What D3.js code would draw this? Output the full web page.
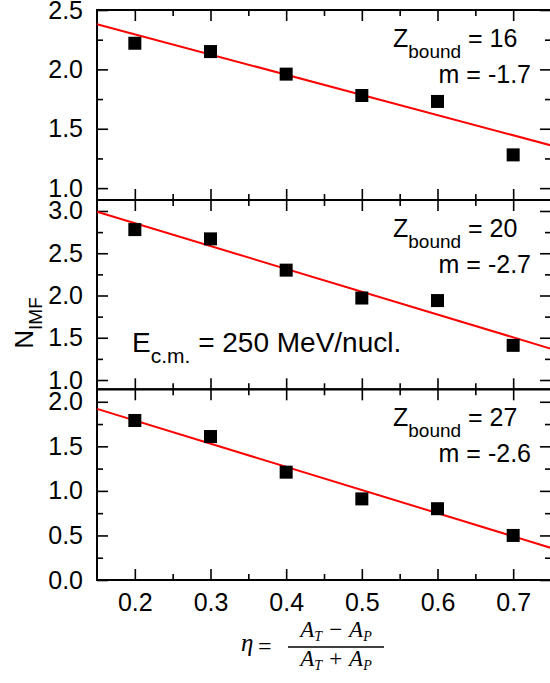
<!DOCTYPE html>
<html>
<head>
<meta charset="utf-8">
<script src="https://cdn.jsdelivr.net/npm/d3@7"></script>
<style>
    body { margin: 0; background: #fff; }
    svg { display: block; font-family: "Liberation Sans", Arial, sans-serif; }
</style>
</head>
<body>
<svg id="chart" width="550" height="683"></svg>
<script>
// eta = (A_T - A_P) / (A_T + A_P)
const eta = [0.2, 0.3, 0.4, 0.5, 0.6, 0.7];
const nImfZ16 = [2.22, 2.15, 1.96, 1.78, 1.73, 1.28];
const nImfZ20 = [2.78, 2.67, 2.30, 1.97, 1.94, 1.41];
const nImfZ27 = [1.79, 1.61, 1.21, 0.91, 0.80, 0.50];

const zBound = [16, 20, 27];
const slopeLabels = ["-1.7", "-2.7", "-2.6"];
const fitSlopes = [-1.7, -2.7, -2.6];
const fitIntercepts = [2.635, 3.395, 2.31];

const xDomain = [0.15, 0.75];
const xMajorTicks = [0.2, 0.3, 0.4, 0.5, 0.6, 0.7];
const xMinorTicks = [0.25, 0.35, 0.45, 0.55, 0.65];

const yDomains = [[0.9, 2.5], [0.89, 3.13], [0, 2.14]];
const yMajorTicks = [[1.0, 1.5, 2.0, 2.5], [1.0, 1.5, 2.0, 2.5, 3.0], [0, 0.5, 1.0, 1.5, 2.0]];
const yMinorTicks = [[1.25, 1.75, 2.25], [1.25, 1.75, 2.25, 2.75], [0.25, 0.75, 1.25, 1.75]];

const panelData = [nImfZ16, nImfZ20, nImfZ27];

const svg = d3.select('#chart');

const LEFT = 97;
const RIGHT = 551;
const PANEL_TOPS = [10, 200, 389.3];
const PANEL_BOTTOMS = [200, 389.3, 580];
const MAJOR_LEN = 11;
const MINOR_LEN = 6;
const SQUARE = 13;
const FONT_TICK = 25;
const FONT_TEXT = 25;
const FONT_SUB = 19;

const x = d3.scaleLinear().domain(xDomain).range([LEFT, RIGHT]);
const fmt = d3.format('.1f');

function styleAxis(g) {
    g.select('.domain').remove();
    g.selectAll('.tick line').attr('stroke', '#000').attr('stroke-width', 1.6);
    g.selectAll('.tick text')
        .attr('fill', '#000')
        .attr('font-size', FONT_TICK)
        .attr('font-family', '"Liberation Sans", Arial, sans-serif');
}

panelData.forEach((values, i) => {
    const top = PANEL_TOPS[i];
    const bottom = PANEL_BOTTOMS[i];
    const y = d3.scaleLinear().domain(yDomains[i]).range([bottom, top]);
    const isLast = i === panelData.length - 1;

    // left axis
    svg.append('g')
        .attr('transform', `translate(${LEFT},0)`)
        .call(d3.axisLeft(y).tickValues(yMajorTicks[i]).tickSize(-MAJOR_LEN).tickPadding(14).tickFormat(fmt))
        .call(styleAxis);
    svg.append('g')
        .attr('transform', `translate(${LEFT},0)`)
        .call(d3.axisLeft(y).tickValues(yMinorTicks[i]).tickSize(-MINOR_LEN).tickFormat(''))
        .call(styleAxis);

    // right axis
    svg.append('g')
        .attr('transform', `translate(${RIGHT},0)`)
        .call(d3.axisRight(y).tickValues(yMajorTicks[i]).tickSize(-MAJOR_LEN).tickFormat(''))
        .call(styleAxis);
    svg.append('g')
        .attr('transform', `translate(${RIGHT},0)`)
        .call(d3.axisRight(y).tickValues(yMinorTicks[i]).tickSize(-MINOR_LEN).tickFormat(''))
        .call(styleAxis);

    // top axis
    svg.append('g')
        .attr('transform', `translate(0,${top})`)
        .call(d3.axisTop(x).tickValues(xMajorTicks).tickSize(-MAJOR_LEN).tickFormat(''))
        .call(styleAxis);
    svg.append('g')
        .attr('transform', `translate(0,${top})`)
        .call(d3.axisTop(x).tickValues(xMinorTicks).tickSize(-MINOR_LEN).tickFormat(''))
        .call(styleAxis);

    // bottom axis
    svg.append('g')
        .attr('transform', `translate(0,${bottom})`)
        .call(d3.axisBottom(x).tickValues(xMajorTicks).tickSize(-MAJOR_LEN).tickPadding(13)
            .tickFormat(isLast ? fmt : ''))
        .call(styleAxis);
    svg.append('g')
        .attr('transform', `translate(0,${bottom})`)
        .call(d3.axisBottom(x).tickValues(xMinorTicks).tickSize(-MINOR_LEN).tickFormat(''))
        .call(styleAxis);

    // frame
    svg.append('rect')
        .attr('x', LEFT)
        .attr('y', top)
        .attr('width', RIGHT - LEFT)
        .attr('height', bottom - top)
        .attr('fill', 'none')
        .attr('stroke', '#000')
        .attr('stroke-width', 2);

    // linear fit
    const fit = d => fitIntercepts[i] + fitSlopes[i] * d;
    svg.append('path')
        .datum(xDomain)
        .attr('d', d3.line().x(d => x(d)).y(d => y(fit(d))))
        .attr('fill', 'none')
        .attr('stroke', '#ff0000')
        .attr('stroke-width', 2);

    // data points
    svg.append('g')
        .selectAll('rect')
        .data(values)
        .join('rect')
        .attr('x', (d, j) => x(eta[j]) - SQUARE / 2)
        .attr('y', d => y(d) - SQUARE / 2)
        .attr('width', SQUARE)
        .attr('height', SQUARE)
        .attr('fill', '#000');

    // annotations
    const zText = svg.append('text')
        .attr('x', 393)
        .attr('y', top + 37)
        .attr('font-size', FONT_TEXT)
        .attr('fill', '#000');
    zText.append('tspan').text('Z');
    zText.append('tspan').attr('font-size', FONT_SUB).attr('dy', 11).text('bound');
    zText.append('tspan').attr('dy', -11).text(' = ' + zBound[i]);

    svg.append('text')
        .attr('x', 531)
        .attr('y', top + 73)
        .attr('font-size', FONT_TEXT)
        .attr('text-anchor', 'end')
        .attr('fill', '#000')
        .text('m = ' + slopeLabels[i]);

    if (i === 1) {
        const eText = svg.append('text')
            .attr('x', 132)
            .attr('y', top + 152)
            .attr('font-size', 28)
            .attr('fill', '#000');
        eText.append('tspan').text('E');
        eText.append('tspan').attr('font-size', 21).attr('dy', 11).text('c.m.');
        eText.append('tspan').attr('dy', -11).text(' = 250 MeV/nucl.');
    }
});

// y axis title
const yTitle = svg.append('text')
    .attr('transform', 'translate(33,323) rotate(-90)')
    .attr('text-anchor', 'middle')
    .attr('font-size', 26)
    .attr('fill', '#000');
yTitle.append('tspan').text('N');
yTitle.append('tspan').attr('font-size', 19).attr('dy', 9).text('IMF');

// x axis title: eta = (A_T - A_P)/(A_T + A_P)
const SERIF = '"Liberation Serif", "DejaVu Serif", serif';
const BAR_Y = 647;
const FRAC_LEFT = 288;
const FRAC_RIGHT = 384;

svg.append('text')
    .attr('x', 241)
    .attr('y', BAR_Y + 4)
    .attr('font-family', SERIF)
    .attr('font-style', 'italic')
    .attr('font-size', 25)
    .text('η');
svg.append('text')
    .attr('x', 258)
    .attr('y', BAR_Y + 7)
    .attr('font-family', SERIF)
    .attr('font-size', 24)
    .text('=');
svg.append('line')
    .attr('x1', FRAC_LEFT)
    .attr('x2', FRAC_RIGHT)
    .attr('y1', BAR_Y)
    .attr('y2', BAR_Y)
    .attr('stroke', '#000')
    .attr('stroke-width', 1.3);

function fracRow(yPos, op) {
    const t = svg.append('text')
        .attr('x', (FRAC_LEFT + FRAC_RIGHT) / 2)
        .attr('y', yPos)
        .attr('text-anchor', 'middle')
        .attr('font-family', SERIF)
        .attr('font-size', 23);
    t.append('tspan').attr('font-style', 'italic').text('A');
    t.append('tspan').attr('font-style', 'italic').attr('font-size', 14).attr('dy', 4).text('T');
    t.append('tspan').attr('dy', -4).attr('dx', 7).text(op);
    t.append('tspan').attr('font-style', 'italic').attr('dx', 7).text('A');
    t.append('tspan').attr('font-style', 'italic').attr('font-size', 14).attr('dy', 4).text('P');
}
fracRow(637, '−');
fracRow(666, '+');
</script>
</body>
</html>
